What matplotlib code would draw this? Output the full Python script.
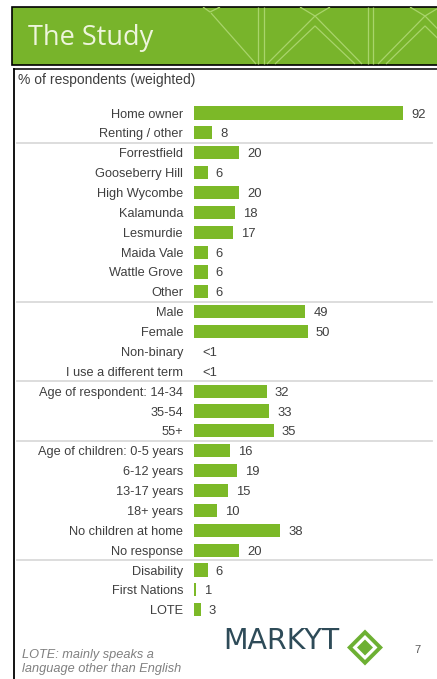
import matplotlib
matplotlib.use("Agg")
import matplotlib.pyplot as plt
from matplotlib.patches import Rectangle, Polygon
from matplotlib.transforms import blended_transform_factory

# ---------------- data ----------------
categories = [
    "Home owner", "Renting / other",
    "Forrestfield", "Gooseberry Hill", "High Wycombe", "Kalamunda",
    "Lesmurdie", "Maida Vale", "Wattle Grove", "Other",
    "Male", "Female", "Non-binary", "I use a different term",
    "Age of respondent: 14-34", "35-54", "55+",
    "Age of children: 0-5 years", "6-12 years", "13-17 years", "18+ years",
    "No children at home", "No response",
    "Disability", "First Nations", "LOTE",
]
values = [92, 8, 20, 6, 20, 18, 17, 6, 6, 6, 49, 50, 0, 0,
          32, 33, 35, 16, 19, 15, 10, 38, 20, 6, 1, 3]
value_labels = ["92", "8", "20", "6", "20", "18", "17", "6", "6", "6",
                "49", "50", "<1", "<1", "32", "33", "35", "16", "19", "15",
                "10", "38", "20", "6", "1", "3"]
group_ends = [1, 9, 13, 16, 22]   # separator after these rows

title = "The Study"
subtitle = "% of respondents (weighted)"
footnote = "LOTE: mainly speaks a\nlanguage other than English"
page_no = "7"

# ---------------- style ----------------
W, H = 437, 679
BAR = "#7CB928"
HEAD = "#78B42B"
TXT = "#3F3F3F"
FONT = "Liberation Sans"

fig = plt.figure(figsize=(W / 100, H / 100), dpi=100)

# background / decoration axes in pixel coordinates
bg = fig.add_axes([0, 0, 1, 1])
bg.set_xlim(0, W)
bg.set_ylim(H, 0)
bg.axis("off")

# header
hdr = Rectangle((12, 7), 440, 58, facecolor=HEAD, edgecolor="black", lw=1.2, zorder=1)
bg.add_patch(hdr)
pat = "#A9D46B"
pattern = [
    [(203, 7), (210, 12), (220, 7)],
    [(211, 13), (256, 64)],
    [(258, 7), (258, 64)], [(264, 7), (264, 64)],
    [(300, 7), (315, 16), (330, 7)],
    [(267, 64), (315, 16), (362, 64)],
    [(275, 64), (315, 26), (355, 64)],
    [(368, 7), (368, 64)], [(373, 7), (373, 64)],
    [(410, 7), (425, 16), (440, 7)],
    [(378, 64), (425, 16), (472, 64)],
    [(386, 64), (425, 26), (464, 64)],
]
for seg in pattern:
    xs, ys = zip(*seg)
    ln, = bg.plot(xs, ys, color=pat, lw=0.9, zorder=2, solid_capstyle="butt")
    ln.set_clip_path(hdr)
bg.text(28, 45, title, fontsize=19.5, family="Open Sans", color="#EEF5DC",
        va="baseline", ha="left", zorder=3)

# chart box border
bg.plot([13.5, W + 2], [68.5, 68.5], color="black", lw=1.1, zorder=3)
bg.plot([13.5, 13.5], [68.5, H + 2], color="black", lw=1.3, zorder=3)

bg.text(18, 80, subtitle, fontsize=10, family=FONT, color=TXT, va="center", ha="left")

# footer
bg.text(22, 662, footnote, fontsize=9.2, family=FONT, color="#808080",
        style="italic", va="center", ha="left", linespacing=1.15)
bg.text(281.5, 641, "MARKYT", fontsize=20.5, family="DejaVu Sans", color="#2E4B58",
        va="center", ha="center")
cx, cy = 365, 647.5
def diamond(r, color, z):
    bg.add_patch(Polygon([(cx, cy - r), (cx + r, cy), (cx, cy + r), (cx - r, cy)],
                         closed=True, facecolor=color, edgecolor="none", zorder=z))
diamond(18, "#6DB033", 4)
diamond(12.5, "white", 5)
diamond(8, "#6DB033", 6)
bg.text(417, 650, page_no, fontsize=8, family=FONT, color="#5A5A5A",
        va="center", ha="center")

# ---------------- bar chart ----------------
n = len(categories)
row0, step = 113.0, 19.87
top_px = row0 - step / 2
bot_px = row0 + step * (n - 1) + step / 2
left_px, px_per_unit = 194.0, 209.0 / 92
ax = fig.add_axes([left_px / W, 1 - bot_px / H, 100 * px_per_unit / W, (bot_px - top_px) / H])
ax.set_xlim(0, 100)
ax.set_ylim(n - 0.5, -0.5)
ax.patch.set_alpha(0)
for s in ax.spines.values():
    s.set_visible(False)

ypos = list(range(n))
ax.barh(ypos, values, height=0.66, color=BAR, edgecolor="none", zorder=3)
ax.set_yticks(ypos)
ax.set_yticklabels(categories, fontsize=9.2, family=FONT, color=TXT,
                   va="center_baseline")
ax.tick_params(axis="y", length=0, pad=7.9)
ax.set_xticks([])

for y, v, lab in zip(ypos, values, value_labels):
    ax.annotate(lab, (v, y), xytext=(5.8, 0), textcoords="offset points",
                va="center_baseline", ha="left", fontsize=9.4, family=FONT, color=TXT)

tr = blended_transform_factory(fig.transFigure, ax.transData)
for g in group_ends:
    ax.plot([17 / W, 432 / W], [g + 0.5, g + 0.5], transform=tr, color="#DADADA",
            lw=1.3, clip_on=False, zorder=1)

fig.savefig("out.png", dpi=100)
